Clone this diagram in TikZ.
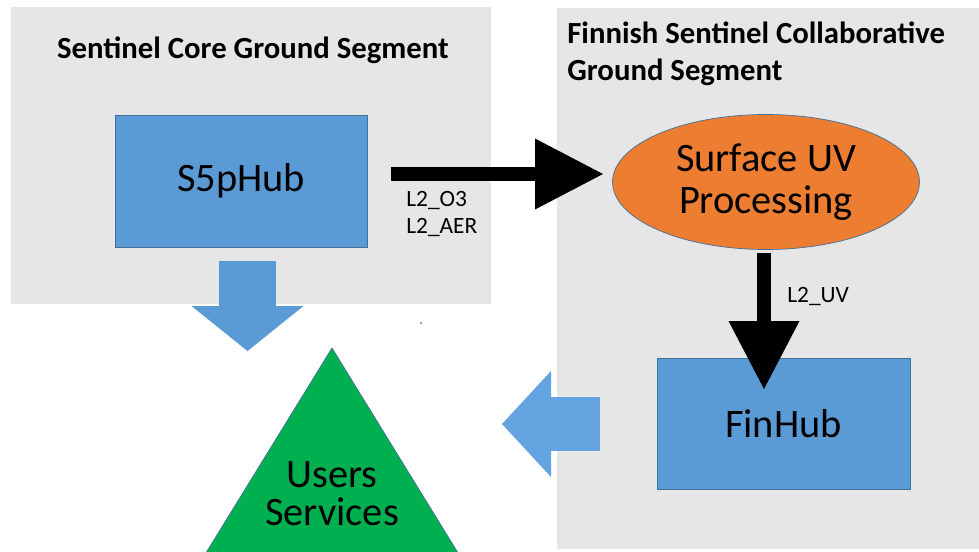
\documentclass[tikz,border=0pt]{standalone}
\usepackage{fontspec}
\setmainfont{Carlito}
\usetikzlibrary{arrows.meta, shapes.geometric}
\definecolor{panelgray}{HTML}{E7E6E6}
\definecolor{hubblue}{HTML}{5B9BD5}
\definecolor{feedblue}{HTML}{62A3E0}
\definecolor{hubline}{HTML}{41719C}
\definecolor{procorange}{HTML}{ED7D31}
\definecolor{usergreen}{HTML}{00B050}

\begin{document}
\begin{tikzpicture}[x=0.02cm, y=-0.02cm,
    panel/.style={fill=panelgray},
    segtitle/.style={font=\fontsize{17.5}{21}\selectfont\bfseries, align=left, inner sep=0pt},
    bigtext/.style={font=\fontsize{23}{24}\selectfont, align=center},
    hub/.style={draw=hubline, fill=hubblue, minimum width=5.04cm, minimum height=2.64cm, bigtext},
    data/.style={font=\fontsize{13.3}{15}\selectfont, align=left, inner sep=0pt},
    flow/.style={line width=0.27cm, -{Triangle[length=1.36cm, width=1.42cm, line width=0pt]}},
    feed/.style={line width=1.14cm, -{Triangle[length=0.9cm, width=2.24cm, line width=0pt]}}
]
    \useasboundingbox (0,0) rectangle (979,551);
    \clip (0,0) rectangle (979,551);

    \fill[panel] (11,7) rectangle (491,304);
    \fill[panel] (557,8) rectangle (979,549);

    \node[segtitle, anchor=base] (coretitle) at (253,58) {Sentinel Core Ground Segment};
    \node[segtitle, anchor=base west] (fintitle) at (567,80) {Finnish Sentinel Collaborative\\Ground Segment};

    \coordinate (coreout) at (247.5,261);
    \coordinate (coretip) at (247.5,351);
    \coordinate (finout) at (600,424);
    \coordinate (fintip) at (502,424);
    \draw[feed, hubblue] (coreout) -- (coretip);
    \draw[feed, feedblue, line width=1.08cm, -{Triangle[length=0.98cm, width=2.12cm, line width=0pt]}] (finout) -- (fintip);
    \fill[hubblue] (421,323) circle (0.025cm);

    \filldraw[draw=hubline, fill=usergreen] (332,348) -- (177,600) -- (487,600) -- cycle;
    \node[bigtext, font=\fontsize{23}{21.5}\selectfont] (users) at (332,494) {Users\\Services};

    \node[hub] (s5phub) at (241,181) {S5pHub};
    \node[hub, minimum width=5.06cm, minimum height=2.62cm] (finhub) at (783.5,423.5) {FinHub};
    \node[ellipse, draw=hubline, fill=procorange, minimum width=6.14cm, minimum height=2.7cm, inner sep=0pt, bigtext] (surfuv) at (766,182) {Surface UV\\Processing};

    \coordinate (o3start) at (391,174);
    \coordinate (o3end) at (603,174);
    \draw[flow] (o3start) -- (o3end);
    \node[data, anchor=base west] (o3lbl) at (406,233) {L2\_O3\\L2\_AER};

    \coordinate (uvtip) at (764,389);
    \draw[flow] (surfuv.south -| uvtip) ++(0,3) -- (uvtip);
    \node[data, anchor=base west] (uvlbl) at (787,302) {L2\_UV};
\end{tikzpicture}
\end{document}
